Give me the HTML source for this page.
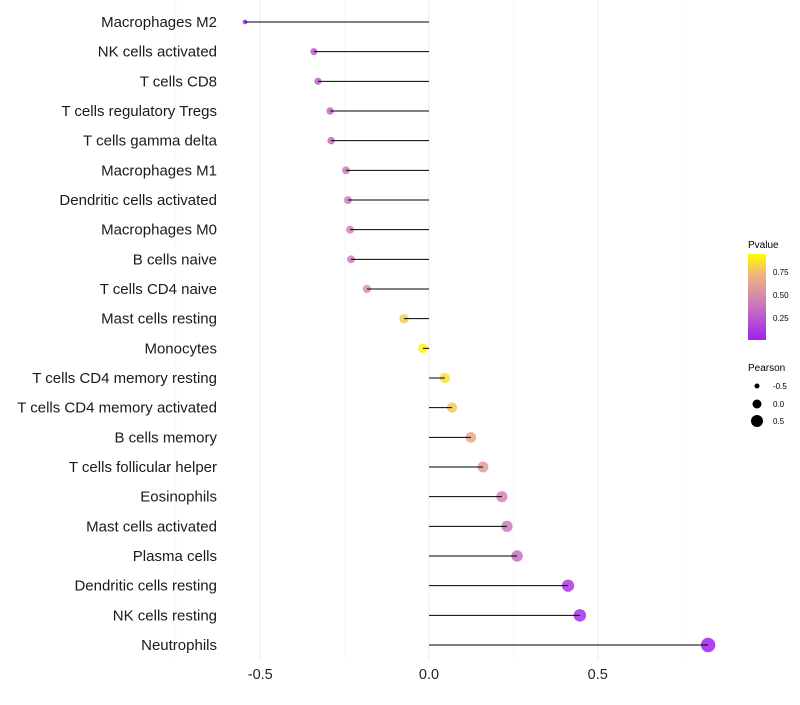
<!DOCTYPE html>
<html><head><meta charset="utf-8"><style>
body{margin:0;background:#fff;font-family:"Liberation Sans",sans-serif}
</style></head><body>
<svg width="800" height="700" xmlns="http://www.w3.org/2000/svg">
<defs>
<linearGradient id="pg" x1="0" y1="1" x2="0" y2="0">
<stop offset="0" stop-color="#a020f0"/><stop offset="0.45" stop-color="#d080b8"/><stop offset="0.75" stop-color="#f0b080"/><stop offset="1" stop-color="#ffff00"/>
</linearGradient>
</defs>
<g id="grid"></g>
<g id="marks"></g>
<g id="labels"></g>
<g id="xt"></g>
<g>
<text x="748" y="248" font-size="10">Pvalue</text>
<rect x="748" y="254" width="18" height="86" fill="url(#pg)"/>
<text x="773" y="275" font-size="8">0.75</text>
<text x="773" y="298" font-size="8">0.50</text>
<text x="773" y="321" font-size="8">0.25</text>
</g>
<g>
<text x="748" y="371" font-size="10">Pearson</text>
<circle cx="757" cy="386" r="2.5" fill="#000"/><text x="773" y="389" font-size="8">-0.5</text>
<circle cx="757" cy="404" r="4.5" fill="#000"/><text x="773" y="407" font-size="8">0.0</text>
<circle cx="757" cy="421" r="6" fill="#000"/><text x="773" y="424" font-size="8">0.5</text>
</g>
</svg>
<script>
const categories=["Macrophages M2","NK cells activated","T cells CD8","T cells regulatory  Tregs ","T cells gamma delta","Macrophages M1","Dendritic cells activated","Macrophages M0","B cells naive","T cells CD4 naive","Mast cells resting","Monocytes","T cells CD4 memory resting","T cells CD4 memory activated","B cells memory","T cells follicular helper","Eosinophils","Mast cells activated","Plasma cells","Dendritic cells resting","NK cells resting","Neutrophils"];
const pearson=[-0.545,-0.341,-0.329,-0.293,-0.29,-0.246,-0.24,-0.234,-0.231,-0.184,-0.074,-0.018,0.047,0.068,0.124,0.16,0.216,0.231,0.261,0.412,0.447,0.827];
const pvalue=[0.01,0.25,0.28,0.33,0.33,0.4,0.42,0.43,0.43,0.55,0.8,0.93,0.85,0.78,0.65,0.58,0.45,0.4,0.35,0.1,0.07,0.0];
const xTicks=[-0.5,0,0.5];
const NS="http://www.w3.org/2000/svg";
const xs=v=>429+v*337.5;
const ys=i=>22+i*29.667;
function mk(t,a,p){const e=document.createElementNS(NS,t);for(const k in a)e.setAttribute(k,a[k]);p.appendChild(e);return e;}
function lerp(a,b,t){return a+(b-a)*t}
const stops=[[0,[160,32,240]],[0.45,[208,128,184]],[0.75,[240,176,128]],[1,[255,255,0]]];
function col(p){const t=Math.min(1,Math.max(0,p/0.95));for(let i=1;i<stops.length;i++){if(t<=stops[i][0]){const a=stops[i-1],b=stops[i];const f=(t-a[0])/(b[0]-a[0]);return `rgb(${[0,1,2].map(k=>Math.round(lerp(a[1][k],b[1][k],f))).join(',')})`;}}return 'rgb(255,255,0)';}
function rad(v){return Math.sqrt(Math.max(2.5,24+34*v));}
const grid=document.getElementById('grid'),marks=document.getElementById('marks'),labels=document.getElementById('labels'),xt=document.getElementById('xt');
[-0.75,-0.25,0.25,0.75].forEach(v=>{const l=mk('line',{x1:xs(v),x2:xs(v),y1:0,y2:660,stroke:'#f4f4f4','stroke-width':0.6},grid);

});
xTicks.forEach(v=>{const l=mk('line',{x1:xs(v),x2:xs(v),y1:0,y2:660,stroke:'#ebebeb','stroke-width':1},grid);


const t=mk('text',{x:xs(v),y:679,'text-anchor':'middle','font-size':14.5,fill:'#222'},xt);t.textContent=v===0?'0.0':String(v);

});
categories.forEach((c,i)=>{const y=ys(i);
const d=mk('circle',{cx:xs(pearson[i]),cy:y,r:rad(pearson[i]),fill:col(pvalue[i]),'fill-opacity':0.85},marks);


const s=mk('line',{x1:xs(0),x2:xs(pearson[i]),y1:y,y2:y,stroke:'#000','stroke-width':1},marks);


const t=mk('text',{x:217,y:y+5,'text-anchor':'end','font-size':15,fill:'#1a1a1a','xml:space':'preserve'},labels);t.textContent=c;

});
</script>
</body></html>
